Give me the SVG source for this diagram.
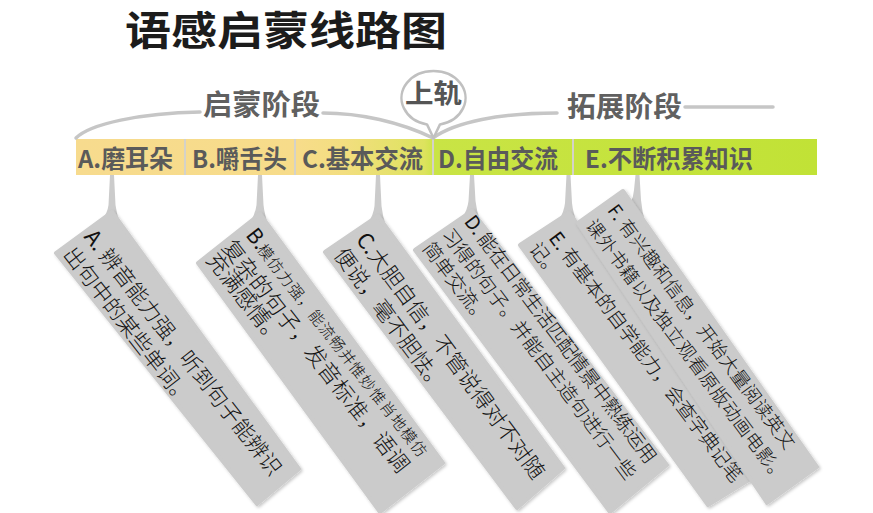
<svg xmlns="http://www.w3.org/2000/svg" width="873" height="513" viewBox="0 0 873 513">
<defs>
<style>
.cjk{font-family:"Noto Sans CJK SC","Noto Sans",sans-serif}
.title{font-size:40px;font-weight:700;fill:#1c1c1c}
.stage{font-size:28px;font-weight:700;fill:#606060}
.seg{font-size:24.5px;font-weight:700;fill:#5a5a5a}
.bub{font-size:26px;font-weight:700;fill:#555}
.curve{fill:none;stroke:#c6c6c6;stroke-width:3.5;stroke-linecap:round}
.sep{stroke:#d4d2c8;stroke-width:2}
.box{fill:#cbcbcb;stroke:#cbcbcb;stroke-width:4;stroke-linejoin:round;filter:url(#sh)}
.tail{fill:#cbcbcb}
.ct{font-family:"Noto Sans CJK SC","Noto Sans",sans-serif;font-weight:300;fill:#111}
.lt{font-weight:400}
</style>
<linearGradient id="barg" gradientUnits="userSpaceOnUse" x1="76" y1="0" x2="817" y2="0">
<stop offset="0" stop-color="#f7db8e"/>
<stop offset="0.30" stop-color="#f7dc8a"/>
<stop offset="0.36" stop-color="#f3de80"/>
<stop offset="0.47" stop-color="#dde35e"/>
<stop offset="0.485" stop-color="#c9e445"/>
<stop offset="1" stop-color="#c1e236"/>
</linearGradient>
<filter id="sh" x="-10%" y="-10%" width="125%" height="125%">
<feDropShadow dx="1.5" dy="1.5" stdDeviation="1.5" flood-color="#000" flood-opacity="0.22"/>
</filter>
</defs>
<rect width="873" height="513" fill="#ffffff"/>

<g id="title">
<text class="cjk title" x="125" y="44.5" textLength="322" lengthAdjust="spacingAndGlyphs">语感启蒙线路图</text>
</g>

<g id="stage-qimeng">
<text class="cjk stage" x="203" y="114.5" textLength="117" lengthAdjust="spacingAndGlyphs">启蒙阶段</text>
</g>
<g id="stage-tuozhan">
<text class="cjk stage" x="567" y="117" textLength="115" lengthAdjust="spacingAndGlyphs">拓展阶段</text>
</g>

<g id="bar">
<rect x="76" y="139" width="741" height="36" fill="url(#barg)"/>
<line class="sep" x1="185" y1="139" x2="185" y2="175"/>
<line class="sep" x1="295" y1="139" x2="295" y2="175"/>
<line class="sep" x1="433" y1="139" x2="433" y2="175"/>
<line class="sep" x1="573" y1="139" x2="573" y2="175"/>
</g>
<g id="seg-a"><text class="cjk seg" x="78" y="168" textLength="95" lengthAdjust="spacingAndGlyphs">A.磨耳朵</text></g>
<g id="seg-b"><text class="cjk seg" x="192" y="168" textLength="95" lengthAdjust="spacingAndGlyphs">B.嚼舌头</text></g>
<g id="seg-c"><text class="cjk seg" x="302" y="168" textLength="121" lengthAdjust="spacingAndGlyphs">C.基本交流</text></g>
<g id="seg-d"><text class="cjk seg" x="438" y="168" textLength="120" lengthAdjust="spacingAndGlyphs">D.自由交流</text></g>
<g id="seg-e"><text class="cjk seg" x="585" y="168" textLength="168" lengthAdjust="spacingAndGlyphs">E.不断积累知识</text></g>

<g id="connectors">
<path class="curve" d="M76,138 C90,124 140,113 200,112"/>
<path class="curve" d="M323,113 C360,113 400,122 433,138"/>
<path class="curve" d="M433,138 C455,122 500,113 557,113"/>
<path class="curve" d="M685,107 L773,107"/>
<path class="tail" d="M110,175 L114,175 L115.5,205 Q116.5,214 120.2,223.3 L109.8,232 L102.3,219.1 Q107.5,213 108.5,205 Z"/>
<path class="tail" d="M258,175 L262,175 L263.5,205 Q264.5,214 268.3,225.3 L260,234 L250.6,221.4 Q255.5,213 256.5,205 Z"/>
<path class="tail" d="M376,175 L380,175 L381.5,206 Q382.5,216 386.3,227.3 L378,236 L368.1,222.7 Q373.5,215 374.5,206 Z"/>
<path class="tail" d="M470,175 L474,175 L475.5,201 Q476.5,211 480.5,222.1 L472,230 L462.1,217.8 Q467.5,210 468.5,201 Z"/>
<path class="tail" d="M566.5,175 L570.5,175 L572,203 Q573,213 577.5,224.1 L569,232 L559,219.6 Q564,212 565,203 Z"/>
<path class="tail" d="M635.5,175 L639.5,175 L641,200 Q642,212 645.6,223.5 L632,225 L630.6,202.2 Q633.5,197 634,190 Z"/>
</g>

<g id="bubble-shanggui">
<path d="M427,124.4 A32,27 0 1 1 440,124.4 L433.5,138 Z" fill="#ffffff" stroke="#c0c0c0" stroke-width="2.5" stroke-linejoin="round"/>
<text class="cjk bub" x="405" y="103" textLength="57" lengthAdjust="spacingAndGlyphs">上轨</text>
</g>

<g id="note-a">
<polygon class="box" points="112,212 299,469 257,504 56,253"/>
<g transform="translate(93,237) rotate(52)" class="ct" font-size="21.5">
<text x="-6" y="7.7" textLength="305" lengthAdjust="spacing"><tspan class="lt">A.</tspan> 辨音能力强，听到句子能辨识</text>
<text x="-5" y="35">出句中的某些单词。</text>
</g>
</g>

<g id="note-b">
<polygon class="box" points="260,214 443,463 380,512 198,263"/>
<g transform="translate(255,235) rotate(52)" class="ct">
<text x="-6" y="8" font-size="21" class="lt">B.</text>
<text x="12.5" y="8" font-size="15.5" textLength="264.5" lengthAdjust="spacing">模仿力强，能流畅并惟妙惟肖地模仿</text>
<text x="-11" y="34.4" font-size="22" textLength="288" lengthAdjust="spacing">复杂的句子，发音标准，语调</text>
<text x="-11" y="54.7" font-size="22">充满感情。</text>
</g>
</g>

<g id="note-c">
<polygon class="box" points="378,216 563,468 517,508 325,252"/>
<g transform="translate(365,240) rotate(53.5)" class="ct" font-size="21.5">
<text x="-6" y="7.7" textLength="300" lengthAdjust="spacing"><tspan class="lt">C.</tspan>大胆自信，不管说得对不对随</text>
<text x="-7" y="34.7">便说，毫不胆怯。</text>
</g>
</g>

<g id="note-d">
<polygon class="box" points="472,211 667,465 610,512 415,250"/>
<g transform="translate(472,223) rotate(53)" class="ct" font-size="19.3">
<text x="-6" y="6" textLength="304.5" lengthAdjust="spacing"><tspan class="lt">D.</tspan> 能在日常生活匹配情景中熟练运用</text>
<text x="-9.5" y="32" textLength="308.5" lengthAdjust="spacing">习得的句子。并能自主造句进行一些</text>
<text x="-10" y="55.5">简单交流。</text>
</g>
</g>

<g id="note-e">
<polygon class="box" points="569,213 765,470 708,505 520,245"/>
<g transform="translate(556,239) rotate(53)" class="ct" font-size="19.3">
<text x="-5.5" y="6" textLength="307.5" lengthAdjust="spacing"><tspan class="lt">E.</tspan> 有基本的自学能力，会查字典记笔</text>
<text x="-9" y="28">记。</text>
</g>
</g>

<g id="note-f">
<polygon class="box" points="623,191 817,467 767,503 578,223"/>
<g transform="translate(614,212) rotate(53.3)" class="ct" font-size="18.5">
<text x="-5.5" y="5" textLength="299.5" lengthAdjust="spacing"><tspan class="lt">F.</tspan> 有兴趣和信息，开始大量阅读英文</text>
<text x="-6.5" y="31.5" textLength="322" lengthAdjust="spacing">课外书籍以及独立观看原版动画电影。</text>
</g>
</g>
</svg>
